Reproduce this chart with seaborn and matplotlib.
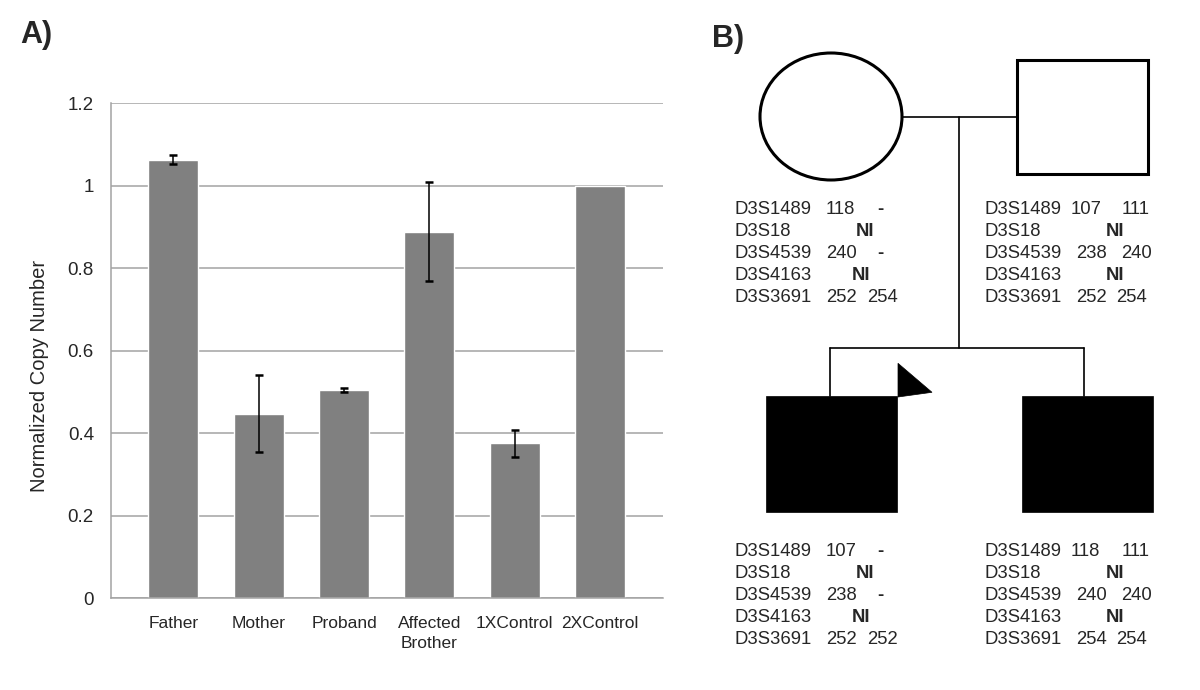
"""
Copy number bar chart (A) and pedigree with marker genotypes (B)
"""
import matplotlib
matplotlib.use('Agg')
import matplotlib.pyplot as plt
from matplotlib.patches import Ellipse, Rectangle, Polygon
import seaborn as sns
import numpy as np

# --- data: panel A ---
categories = ['Father', 'Mother', 'Proband', 'Affected\nBrother', '1XControl', '2XControl']
copy_number = [1.063, 0.447, 0.504, 0.888, 0.375, 1.0]
copy_err = [0.012, 0.093, 0.005, 0.120, 0.033, 0.0]
y_ticks = [0, 0.2, 0.4, 0.6, 0.8, 1.0, 1.2]
y_tick_labels = ['0', '0.2', '0.4', '0.6', '0.8', '1', '1.2']

# --- data: panel B (genotypes per marker) ---
markers = ['D3S1489', 'D3S18', 'D3S4539', 'D3S4163', 'D3S3691']
mother_a1 = ['118', 'NI', '240', 'NI', '252']
mother_a2 = ['-', None, '-', None, '254']
father_a1 = ['107', 'NI', '238', 'NI', '252']
father_a2 = ['111', None, '240', None, '254']
proband_a1 = ['107', 'NI', '238', 'NI', '252']
proband_a2 = ['-', None, '-', None, '252']
brother_a1 = ['118', 'NI', '240', 'NI', '254']
brother_a2 = ['111', None, '240', None, '254']

sns.set_style("white")
plt.rcParams['font.family'] = ['Liberation Sans', 'DejaVu Sans']

fig = plt.figure(figsize=(12, 6.9), dpi=100)

# Panel A: bar chart
grey = '#a3a3a3'
ax = fig.add_axes([0.0925, 0.1333, 0.4603, 0.7174])
sns.barplot(x=categories, y=copy_number, color='#808080', saturation=1,
            width=0.586, errorbar=None, ax=ax, zorder=2)
idx = [i for i, e in enumerate(copy_err) if e > 0]
ax.errorbar(idx, [copy_number[i] for i in idx], yerr=[copy_err[i] for i in idx],
            fmt='none', ecolor='black', elinewidth=1.1, capsize=3.2, capthick=1.8, zorder=3)

ax.set_xlim(-0.73, 5.74)
ax.set_ylim(0, 1.2)
ax.set_yticks(y_ticks)
ax.set_yticklabels(y_tick_labels, fontsize=13.5)
ax.yaxis.grid(True, color=grey, linewidth=1.1)
ax.set_axisbelow(True)
for s in ['top', 'right']:
    ax.spines[s].set_visible(False)
for s in ['left', 'bottom']:
    ax.spines[s].set_color(grey)
    ax.spines[s].set_linewidth(1.1)
ax.tick_params(axis='y', length=4.3, width=1.1, color=grey, pad=8, direction='out')
ax.tick_params(axis='x', which='major', length=0, pad=13, labelsize=12.5)
for lbl in ax.get_xticklabels():
    lbl.set_linespacing(1.45)
ax.set_xticks([-0.73, 5.74], minor=True)
ax.tick_params(axis='x', which='minor', length=4, width=1.1, color=grey, direction='out')
ax.set_xlabel('')
ax.set_ylabel('Normalized Copy Number', fontsize=14.5, va='center')
ax.yaxis.set_label_coords(-0.130, 0.448)

# Panel B: pedigree drawn in pixel coordinates on an overlay
ov = fig.add_axes([0, 0, 1, 1])
ov.set_xlim(0, 1200)
ov.set_ylim(690, 0)
ov.set_axis_off()
ov.set_facecolor('none')

ov.text(20, 43, 'A)', fontsize=22, fontweight='bold', ha='left', va='baseline')
ov.text(712, 47, 'B)', fontsize=22, fontweight='bold', ha='left', va='baseline')

lw_line = 1.2
ov.add_patch(Ellipse((831, 116.5), 142, 127, fill=False, ec='black', lw=2.2))
ov.add_patch(Rectangle((1017, 59.5), 130.5, 114.5, fill=False, ec='black', lw=2.2))
ov.plot([902, 1017], [116.7, 116.7], color='black', lw=lw_line)
ov.plot([959, 959], [116.7, 347.5], color='black', lw=lw_line)
ov.plot([830, 1084.3], [347.5, 347.5], color='black', lw=lw_line)
ov.plot([830, 830], [347.5, 396], color='black', lw=lw_line)
ov.plot([1084.3, 1084.3], [347.5, 396], color='black', lw=lw_line)
ov.add_patch(Rectangle((765.7, 395.7), 131.3, 116.3, fc='black', ec='black', lw=0.5))
ov.add_patch(Rectangle((1021.7, 395.7), 131.3, 116.3, fc='black', ec='black', lw=0.5))
ov.add_patch(Polygon([(898, 363.3), (932, 392.3), (898, 397)], closed=True,
                     fc='black', ec='black', lw=0.5))

# column offsets relative to marker name, per row
left_a1 = [92, 122, 92, 118, 92]
left_a2 = [143, 0, 143, 0, 133]
right_a1 = [87, 122, 92, 122, 92]
right_a2 = [138, 0, 137, 0, 132]


def genotype_block(x0, y0, a1, a2, off1, off2):
    for r, m in enumerate(markers):
        y = y0 + r * 22
        ov.text(x0, y, m, fontsize=13.3, ha='left', va='baseline')
        bold = a1[r] == 'NI'
        ov.text(x0 + off1[r], y, a1[r], fontsize=13.3, ha='left', va='baseline',
                fontweight='bold' if bold else 'normal')
        if a2[r] is not None:
            ov.text(x0 + off2[r], y, a2[r], fontsize=13.3, ha='left', va='baseline',
                    fontweight='bold' if a2[r] == '-' else 'normal')


genotype_block(734, 213.5, mother_a1, mother_a2, left_a1, left_a2)
genotype_block(984, 213.5, father_a1, father_a2, right_a1, right_a2)
genotype_block(734, 556.5, proband_a1, proband_a2, left_a1, left_a2)
genotype_block(984, 556.5, brother_a1, brother_a2, right_a1, right_a2)

plt.savefig('out.png', dpi=100)
